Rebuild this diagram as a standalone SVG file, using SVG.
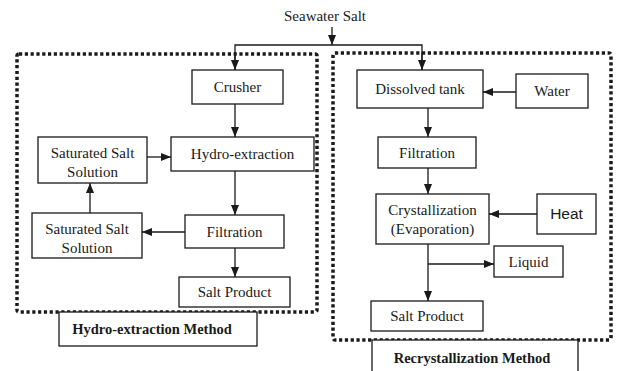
<svg xmlns="http://www.w3.org/2000/svg" width="617" height="371" viewBox="0 0 617 371">
<defs>
<style>
.box{fill:#fff;stroke:#1a1a1a;stroke-width:1.3}
.t{font-family:'Liberation Serif','Times New Roman',serif;font-size:15px;fill:#1a1a1a;text-anchor:middle}
.b{font-family:'Liberation Serif','Times New Roman',serif;font-size:14.5px;font-weight:bold;fill:#1a1a1a;text-anchor:middle}
.s{font-family:'Liberation Sans',Arial,sans-serif;font-size:15.5px;fill:#1a1a1a;text-anchor:middle}
.ln{fill:none;stroke:#1a1a1a;stroke-width:1.3}
.dot{fill:none;stroke:#1a1a1a;stroke-width:3.5;stroke-dasharray:3.2 2.6}
</style>
<marker id="ah" markerUnits="userSpaceOnUse" markerWidth="10" markerHeight="10" viewBox="0 0 10 10" refX="10" refY="5" orient="auto">
<path d="M0,1 L10,5 L0,9 Z" fill="#1a1a1a"/>
</marker>
</defs>
<rect width="617" height="371" fill="#fff"/>
<g id="groups">
<rect class="dot" x="17" y="54" width="300" height="258" rx="2"/>
<rect class="dot" x="333" y="53" width="278" height="287" rx="2"/>
</g>
<g id="connectors">
<line class="ln" x1="332" y1="27" x2="332" y2="45" marker-end="url(#ah)"/>
<polyline class="ln" points="235,70 235,45 422,45 422,70"/>
<line class="ln" x1="235" y1="52" x2="235" y2="70" marker-end="url(#ah)"/>
<line class="ln" x1="422" y1="52" x2="422" y2="70" marker-end="url(#ah)"/>
<line class="ln" x1="235" y1="104" x2="235" y2="137" marker-end="url(#ah)"/>
<line class="ln" x1="147" y1="157" x2="171" y2="157" marker-end="url(#ah)"/>
<line class="ln" x1="235" y1="171" x2="235" y2="215" marker-end="url(#ah)"/>
<line class="ln" x1="185" y1="232" x2="142" y2="232" marker-end="url(#ah)"/>
<line class="ln" x1="90" y1="213" x2="90" y2="183" marker-end="url(#ah)"/>
<line class="ln" x1="235" y1="248" x2="235" y2="277" marker-end="url(#ah)"/>
<line class="ln" x1="516" y1="92" x2="483" y2="92" marker-end="url(#ah)"/>
<line class="ln" x1="428" y1="108" x2="428" y2="137" marker-end="url(#ah)"/>
<line class="ln" x1="428" y1="168" x2="428" y2="194" marker-end="url(#ah)"/>
<line class="ln" x1="537" y1="214" x2="489" y2="214" marker-end="url(#ah)"/>
<line class="ln" x1="428" y1="244" x2="428" y2="301" marker-end="url(#ah)"/>
<line class="ln" x1="428" y1="264" x2="494" y2="264" marker-end="url(#ah)"/>
</g>
<g id="seawater"><text class="t" x="325" y="21">Seawater Salt</text></g>
<g id="crusher"><rect class="box" x="192" y="70" width="91" height="34"/><text class="t" x="237.5" y="92">Crusher</text></g>
<g id="hydro"><rect class="box" x="171" y="137" width="143" height="34"/><text class="t" x="242.5" y="159">Hydro-extraction</text></g>
<g id="sss1"><rect class="box" x="38" y="137" width="109" height="46"/><text class="t" x="92.5" y="158">Saturated Salt</text><text class="t" x="92.5" y="177">Solution</text></g>
<g id="filt1"><rect class="box" x="185" y="215" width="99" height="33"/><text class="t" x="234.5" y="237">Filtration</text></g>
<g id="sss2"><rect class="box" x="32" y="213" width="110" height="45"/><text class="t" x="87" y="234">Saturated Salt</text><text class="t" x="87" y="253">Solution</text></g>
<g id="salt1"><rect class="box" x="179" y="277" width="111" height="30"/><text class="t" x="234.5" y="297">Salt Product</text></g>
<g id="label1"><rect class="box" x="59" y="312" width="198" height="34"/><text class="b" x="152" y="334">Hydro-extraction Method</text></g>
<g id="dissolved"><rect class="box" x="357" y="70" width="126" height="38"/><text class="t" x="420" y="94">Dissolved tank</text></g>
<g id="water"><rect class="box" x="516" y="74" width="72" height="34"/><text class="t" x="552" y="96">Water</text></g>
<g id="filt2"><rect class="box" x="378" y="137" width="98" height="31"/><text class="t" x="427" y="158">Filtration</text></g>
<g id="cryst"><rect class="box" x="376" y="194" width="113" height="50"/><text class="t" x="432.5" y="215">Crystallization</text><text class="t" x="432.5" y="234">(Evaporation)</text></g>
<g id="heat"><rect class="box" x="537" y="194" width="59" height="40"/><text class="s" x="566.5" y="219">Heat</text></g>
<g id="liquid"><rect class="box" x="494" y="246" width="69" height="31"/><text class="t" x="528.5" y="267">Liquid</text></g>
<g id="salt2"><rect class="box" x="371" y="301" width="112" height="30"/><text class="t" x="427" y="321">Salt Product</text></g>
<g id="label2"><rect class="box" x="372" y="340" width="206" height="40"/><text class="b" x="472" y="363">Recrystallization Method</text></g>
</svg>
